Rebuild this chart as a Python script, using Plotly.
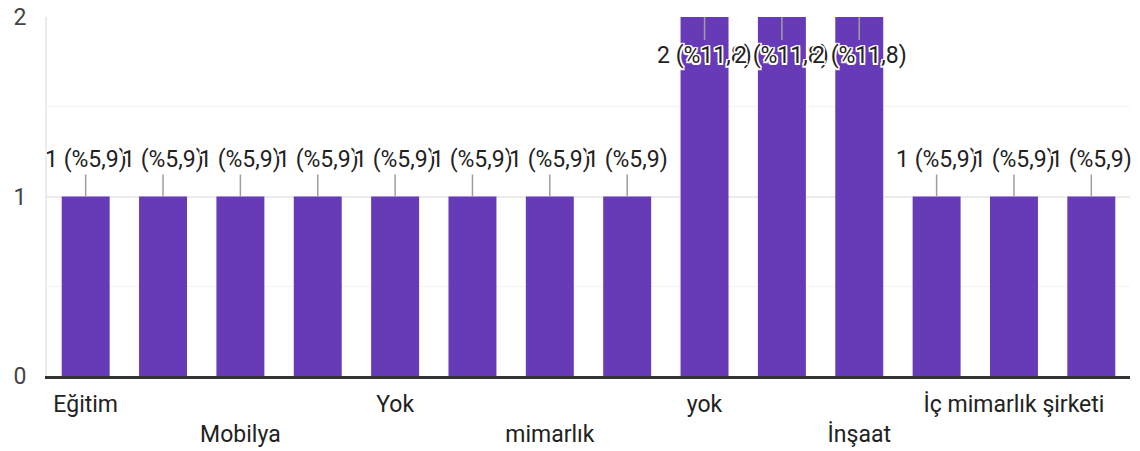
import plotly.graph_objects as go

counts = [1, 1, 1, 1, 1, 1, 1, 1, 2, 2, 2, 1, 1, 1]
tick_labels = ["Eğitim", "", "Mobilya", "", "Yok", "", "mimarlık", "",
               "yok", "", "İnşaat", "", "İç mimarlık şirketi", ""]
y_ticks = [0, 1, 2]

total = sum(counts)
positions = list(range(1, len(counts) + 1))
ymax = max(y_ticks)
FONT = "Roboto, Arial, sans-serif"

fig = go.Figure()
fig.add_trace(go.Bar(x=positions, y=counts, marker=dict(color="#673ab7", line=dict(width=0)),
                     hoverinfo="skip"))

shadow = ("-1.5px -1.5px 0 #fff, 1.5px -1.5px 0 #fff, -1.5px 1.5px 0 #fff, 1.5px 1.5px 0 #fff,"
          " 0 -1.5px 0 #fff, 0 1.5px 0 #fff, -1.5px 0 0 #fff, 1.5px 0 0 #fff")
for p, c in zip(positions, counts):
    pct = f"{100 * c / total:.1f}".replace(".", ",")
    inside = c >= ymax
    fig.add_annotation(x=p, y=c, xref="x", yref="y", text=f"{c} (%{pct})",
                       showarrow=True, arrowhead=0, arrowwidth=1.5, arrowcolor="#9e9e9e",
                       ax=0, ay=38 if inside else -37, standoff=0,
                       font=dict(family=FONT, size=23, color="#222", shadow=shadow))

ticktext = []
vis = 0
for t in tick_labels:
    if t:
        ticktext.append(t if vis % 2 == 0 else "<br>" + t)
        vis += 1
    else:
        ticktext.append("")

fig.update_layout(
    width=1140, height=451,
    margin=dict(l=47, r=10, t=17, b=75, autoexpand=False),
    plot_bgcolor="#fff", paper_bgcolor="#fff",
    bargap=0.38, showlegend=False,
    font=dict(family=FONT, size=23, color="#222"),
    xaxis=dict(range=[0.5, len(counts) + 0.5], tickvals=positions, ticktext=ticktext,
               showgrid=False, showline=True, linecolor="#333", linewidth=3,
               ticks="", tickfont=dict(size=23, color="#222"), fixedrange=True,
               automargin=False, ticklabelstandoff=5),
    yaxis=dict(range=[0, ymax], tickvals=y_ticks, showgrid=True, gridcolor="#ebebeb",
               gridwidth=2, zeroline=False, showline=True, linecolor="#ebebeb", linewidth=2,
               ticks="", tickfont=dict(size=23, color="#444"), ticklabelstandoff=14,
               minor=dict(dtick=0.5, showgrid=True, gridcolor="#f3f3f3", gridwidth=1),
               fixedrange=True, automargin=False),
)

fig.write_html("out.html", config={"displayModeBar": False},
               post_script="document.body.style.margin='0';document.body.style.padding='0';")
